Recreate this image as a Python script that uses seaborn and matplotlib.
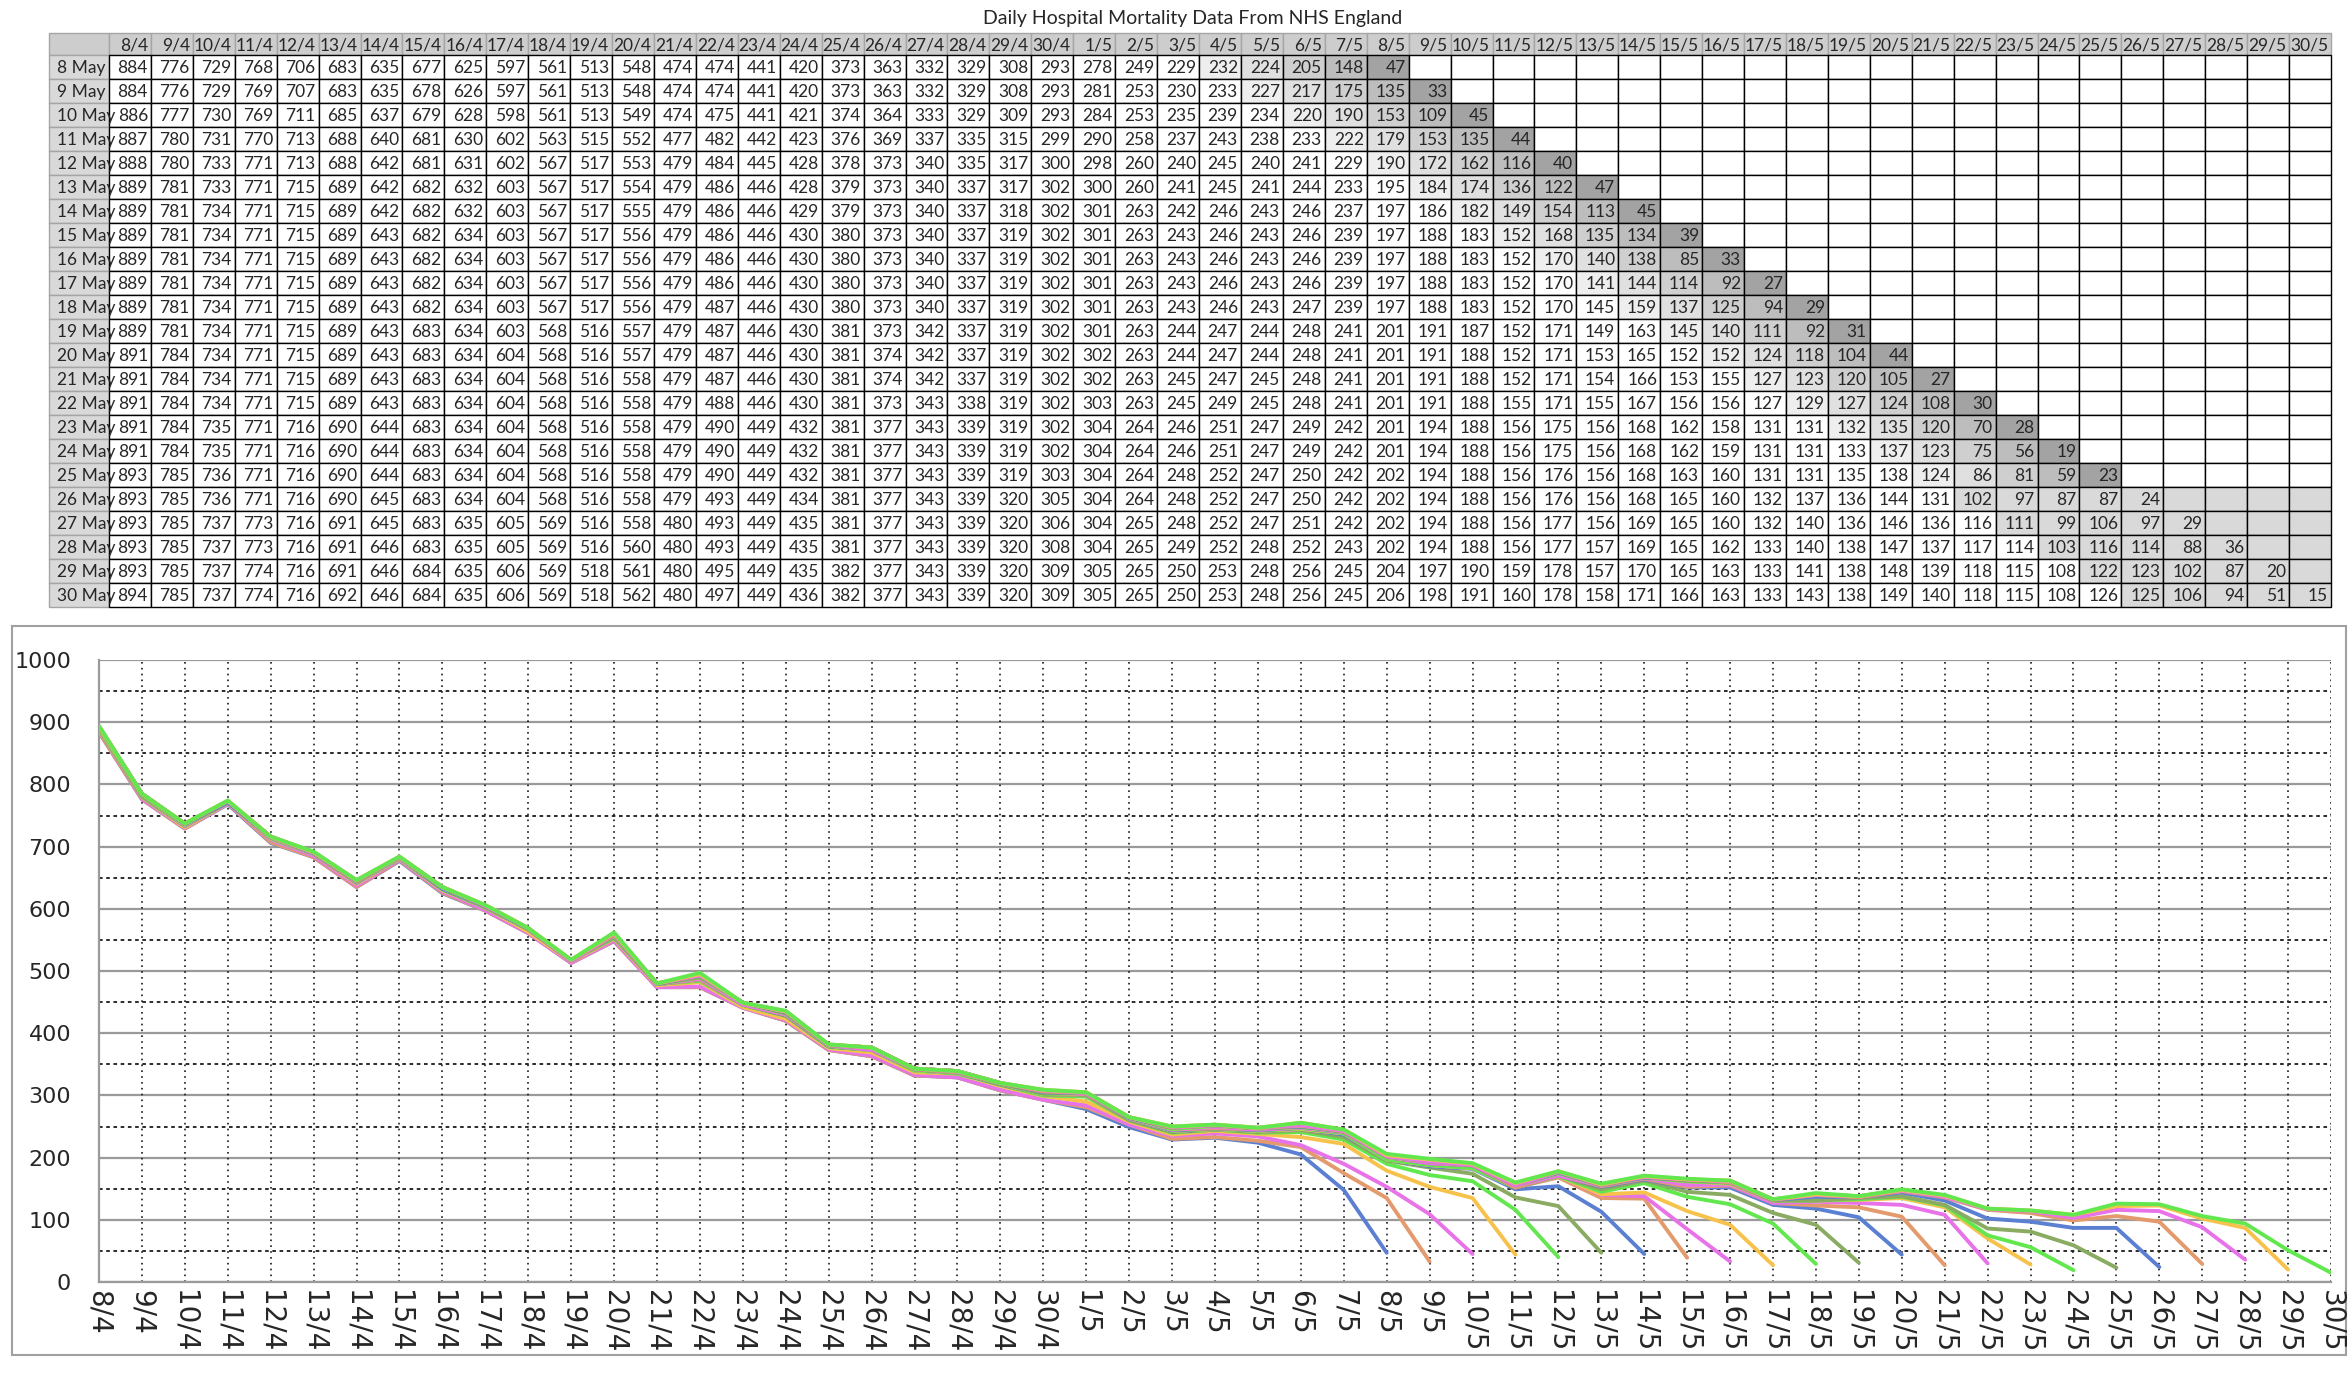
import matplotlib
matplotlib.use('Agg')
import matplotlib.pyplot as plt
from matplotlib.patches import Rectangle
import seaborn as sns
import pandas as pd

# column dates (day of death)
dates = ['8/4', '9/4', '10/4', '11/4', '12/4', '13/4', '14/4', '15/4', '16/4', '17/4',
         '18/4', '19/4', '20/4', '21/4', '22/4', '23/4', '24/4', '25/4', '26/4', '27/4',
         '28/4', '29/4', '30/4', '1/5', '2/5', '3/5', '4/5', '5/5', '6/5', '7/5', '8/5',
         '9/5', '10/5', '11/5', '12/5', '13/5', '14/5', '15/5', '16/5', '17/5', '18/5',
         '19/5', '20/5', '21/5', '22/5', '23/5', '24/5', '25/5', '26/5', '27/5', '28/5',
         '29/5', '30/5']

# row labels (day the figures were published)
reports = ['8 May', '9 May', '10 May', '11 May', '12 May', '13 May', '14 May', '15 May',
           '16 May', '17 May', '18 May', '19 May', '20 May', '21 May', '22 May', '23 May',
           '24 May', '25 May', '26 May', '27 May', '28 May', '29 May', '30 May']

may08 = [884, 776, 729, 768, 706, 683, 635, 677, 625, 597, 561, 513, 548, 474, 474, 441, 420, 373, 363, 332, 329, 308, 293, 278, 249,
         229, 232, 224, 205, 148, 47]
may09 = [884, 776, 729, 769, 707, 683, 635, 678, 626, 597, 561, 513, 548, 474, 474, 441, 420, 373, 363, 332, 329, 308, 293, 281, 253,
         230, 233, 227, 217, 175, 135, 33]
may10 = [886, 777, 730, 769, 711, 685, 637, 679, 628, 598, 561, 513, 549, 474, 475, 441, 421, 374, 364, 333, 329, 309, 293, 284, 253,
         235, 239, 234, 220, 190, 153, 109, 45]
may11 = [887, 780, 731, 770, 713, 688, 640, 681, 630, 602, 563, 515, 552, 477, 482, 442, 423, 376, 369, 337, 335, 315, 299, 290, 258,
         237, 243, 238, 233, 222, 179, 153, 135, 44]
may12 = [888, 780, 733, 771, 713, 688, 642, 681, 631, 602, 567, 517, 553, 479, 484, 445, 428, 378, 373, 340, 335, 317, 300, 298, 260,
         240, 245, 240, 241, 229, 190, 172, 162, 116, 40]
may13 = [889, 781, 733, 771, 715, 689, 642, 682, 632, 603, 567, 517, 554, 479, 486, 446, 428, 379, 373, 340, 337, 317, 302, 300, 260,
         241, 245, 241, 244, 233, 195, 184, 174, 136, 122, 47]
may14 = [889, 781, 734, 771, 715, 689, 642, 682, 632, 603, 567, 517, 555, 479, 486, 446, 429, 379, 373, 340, 337, 318, 302, 301, 263,
         242, 246, 243, 246, 237, 197, 186, 182, 149, 154, 113, 45]
may15 = [889, 781, 734, 771, 715, 689, 643, 682, 634, 603, 567, 517, 556, 479, 486, 446, 430, 380, 373, 340, 337, 319, 302, 301, 263,
         243, 246, 243, 246, 239, 197, 188, 183, 152, 168, 135, 134, 39]
may16 = [889, 781, 734, 771, 715, 689, 643, 682, 634, 603, 567, 517, 556, 479, 486, 446, 430, 380, 373, 340, 337, 319, 302, 301, 263,
         243, 246, 243, 246, 239, 197, 188, 183, 152, 170, 140, 138, 85, 33]
may17 = [889, 781, 734, 771, 715, 689, 643, 682, 634, 603, 567, 517, 556, 479, 486, 446, 430, 380, 373, 340, 337, 319, 302, 301, 263,
         243, 246, 243, 246, 239, 197, 188, 183, 152, 170, 141, 144, 114, 92, 27]
may18 = [889, 781, 734, 771, 715, 689, 643, 682, 634, 603, 567, 517, 556, 479, 487, 446, 430, 380, 373, 340, 337, 319, 302, 301, 263,
         243, 246, 243, 247, 239, 197, 188, 183, 152, 170, 145, 159, 137, 125, 94, 29]
may19 = [889, 781, 734, 771, 715, 689, 643, 683, 634, 603, 568, 516, 557, 479, 487, 446, 430, 381, 373, 342, 337, 319, 302, 301, 263,
         244, 247, 244, 248, 241, 201, 191, 187, 152, 171, 149, 163, 145, 140, 111, 92, 31]
may20 = [891, 784, 734, 771, 715, 689, 643, 683, 634, 604, 568, 516, 557, 479, 487, 446, 430, 381, 374, 342, 337, 319, 302, 302, 263,
         244, 247, 244, 248, 241, 201, 191, 188, 152, 171, 153, 165, 152, 152, 124, 118, 104, 44]
may21 = [891, 784, 734, 771, 715, 689, 643, 683, 634, 604, 568, 516, 558, 479, 487, 446, 430, 381, 374, 342, 337, 319, 302, 302, 263,
         245, 247, 245, 248, 241, 201, 191, 188, 152, 171, 154, 166, 153, 155, 127, 123, 120, 105, 27]
may22 = [891, 784, 734, 771, 715, 689, 643, 683, 634, 604, 568, 516, 558, 479, 488, 446, 430, 381, 373, 343, 338, 319, 302, 303, 263,
         245, 249, 245, 248, 241, 201, 191, 188, 155, 171, 155, 167, 156, 156, 127, 129, 127, 124, 108, 30]
may23 = [891, 784, 735, 771, 716, 690, 644, 683, 634, 604, 568, 516, 558, 479, 490, 449, 432, 381, 377, 343, 339, 319, 302, 304, 264,
         246, 251, 247, 249, 242, 201, 194, 188, 156, 175, 156, 168, 162, 158, 131, 131, 132, 135, 120, 70, 28]
may24 = [891, 784, 735, 771, 716, 690, 644, 683, 634, 604, 568, 516, 558, 479, 490, 449, 432, 381, 377, 343, 339, 319, 302, 304, 264,
         246, 251, 247, 249, 242, 201, 194, 188, 156, 175, 156, 168, 162, 159, 131, 131, 133, 137, 123, 75, 56, 19]
may25 = [893, 785, 736, 771, 716, 690, 644, 683, 634, 604, 568, 516, 558, 479, 490, 449, 432, 381, 377, 343, 339, 319, 303, 304, 264,
         248, 252, 247, 250, 242, 202, 194, 188, 156, 176, 156, 168, 163, 160, 131, 131, 135, 138, 124, 86, 81, 59, 23]
may26 = [893, 785, 736, 771, 716, 690, 645, 683, 634, 604, 568, 516, 558, 479, 493, 449, 434, 381, 377, 343, 339, 320, 305, 304, 264,
         248, 252, 247, 250, 242, 202, 194, 188, 156, 176, 156, 168, 165, 160, 132, 137, 136, 144, 131, 102, 97, 87, 87, 24]
may27 = [893, 785, 737, 773, 716, 691, 645, 683, 635, 605, 569, 516, 558, 480, 493, 449, 435, 381, 377, 343, 339, 320, 306, 304, 265,
         248, 252, 247, 251, 242, 202, 194, 188, 156, 177, 156, 169, 165, 160, 132, 140, 136, 146, 136, 116, 111, 99, 106, 97, 29]
may28 = [893, 785, 737, 773, 716, 691, 646, 683, 635, 605, 569, 516, 560, 480, 493, 449, 435, 381, 377, 343, 339, 320, 308, 304, 265,
         249, 252, 248, 252, 243, 202, 194, 188, 156, 177, 157, 169, 165, 162, 133, 140, 138, 147, 137, 117, 114, 103, 116, 114, 88, 36]
may29 = [893, 785, 737, 774, 716, 691, 646, 684, 635, 606, 569, 518, 561, 480, 495, 449, 435, 382, 377, 343, 339, 320, 309, 305, 265,
         250, 253, 248, 256, 245, 204, 197, 190, 159, 178, 157, 170, 165, 163, 133, 141, 138, 148, 139, 118, 115, 108, 122, 123, 102, 87, 20]
may30 = [894, 785, 737, 774, 716, 692, 646, 684, 635, 606, 569, 518, 562, 480, 497, 449, 436, 382, 377, 343, 339, 320, 309, 305, 265,
         250, 253, 248, 256, 245, 206, 198, 191, 160, 178, 158, 171, 166, 163, 133, 143, 138, 149, 140, 118, 115, 108, 126, 125, 106, 94, 51, 15]

rows = [may08, may09, may10, may11, may12, may13, may14, may15, may16, may17, may18, may19,
        may20, may21, may22, may23, may24, may25, may26, may27, may28, may29, may30]
for i, r in enumerate(rows):
    assert len(r) == 31 + i, (reports[i], len(r))

line_cols = ['#5b80d2', '#e39a6c', '#e873e8', '#f6c24c', '#62e84e', '#8aab62']
lag_cols = ['#a3a3a3', '#bdbdbd', '#cfcfcf', '#e0e0e0', '#eeeeee']

sns.set_theme(style='white')
plt.rcParams['font.family'] = ['DejaVu Sans']

W, H = 2348, 1388
fig = plt.figure(figsize=(W / 100, H / 100), dpi=100)
fig.patch.set_facecolor('white')
bg = fig.add_axes([0, 0, 1, 1])
bg.set_xlim(0, W)
bg.set_ylim(H, 0)
bg.axis('off')

# ---- table ----
tfont = 'Lato'
lab_x = 49
tx0, tx1 = 109, 2331
cw = (tx1 - tx0) / len(dates)
hy, hh = 33, 22
ry0, rh = hy + hh, 24

bg.text(1193, 18, 'Daily Hospital Mortality Data From NHS England',
        family=tfont, fontsize=14, ha='center', va='center')

bg.add_patch(Rectangle((lab_x, hy), tx0 - lab_x, hh, fc='#cdcdcd', ec='#a5a5a5', lw=1))
for j, d in enumerate(dates):
    x = tx0 + j * cw
    bg.add_patch(Rectangle((x, hy), cw, hh, fc='#cdcdcd', ec='#a5a5a5', lw=1))
    bg.text(x + cw - 3, hy + hh / 2 + 1, d, family=tfont, fontsize=12.5, ha='right', va='center')

for i, (lab, r) in enumerate(zip(reports, rows)):
    y = ry0 + i * rh
    cell = Rectangle((lab_x, y), tx0 - lab_x, rh, fc='#d9d9d9', ec='#a5a5a5', lw=1)
    bg.add_patch(cell)
    t = bg.text(lab_x + 8, y + rh / 2 + 1, lab, family=tfont, fontsize=12.5, ha='left', va='center')
    t.set_clip_path(cell)
    last = len(r) - 1
    for j in range(len(dates)):
        lag = last - j
        fc = 'white'
        if i >= 18:
            if lag <= 4:
                fc = '#d9d9d9'
        elif 0 <= lag <= 4:
            fc = lag_cols[lag]
        x = tx0 + j * cw
        bg.add_patch(Rectangle((x, y), cw, rh, fc=fc, ec='black', lw=1))
        if j <= last:
            bg.text(x + cw - 3, y + rh / 2 + 1, str(r[j]), family=tfont, fontsize=12.5,
                    ha='right', va='center')

# ---- chart box ----
bg.add_patch(Rectangle((12, 626), 2334, 729, fill=False, ec='#a0a0a0', lw=1.5))

px0, px1, py0, py1 = 99, 2331, 660, 1282
ax = fig.add_axes([px0 / W, 1 - py1 / H, (px1 - px0) / W, (py1 - py0) / H])
ax.set_facecolor('none')

recs = []
for lab, r in zip(reports, rows):
    for j, v in enumerate(r):
        recs.append({'report': lab, 'day': j, 'deaths': v})
df = pd.DataFrame(recs)

pal = [line_cols[i % len(line_cols)] for i in range(len(reports))]
sns.lineplot(data=df, x='day', y='deaths', hue='report', hue_order=reports, palette=pal,
             linewidth=2.8, legend=False, errorbar=None, ax=ax, zorder=3)

ax.set_xlim(0, len(dates) - 1)
ax.set_ylim(0, 1000)
ax.set_yticks(range(0, 1001, 100))
ax.set_yticks(range(50, 1000, 100), minor=True)
ax.set_xticks(range(len(dates)))
ax.set_xticklabels(dates, rotation=-90, fontsize=20)
ax.tick_params(axis='y', which='major', labelsize=16, length=0, pad=20)
ax.tick_params(axis='y', which='minor', length=0)
ax.tick_params(axis='x', length=0, pad=6)
ax.grid(which='major', axis='y', color='#9a9a9a', lw=1.6, ls='-', zorder=1)
ax.grid(which='minor', axis='y', color='#1a1a1a', lw=1.3, ls=(0, (2, 2)), zorder=1)
# vertical dotted grid at each date
ax.vlines(range(1, len(dates)), 0, 1000, colors='#1a1a1a', lw=1.2, linestyles=(0, (1, 2.5)), zorder=1)
for s in ['top', 'right']:
    ax.spines[s].set_visible(False)
for s in ['left', 'bottom']:
    ax.spines[s].set_color('#9a9a9a')
    ax.spines[s].set_linewidth(1.6)
ax.set_xlabel('')
ax.set_ylabel('')

fig.savefig('out.png', dpi=100, facecolor='white')
